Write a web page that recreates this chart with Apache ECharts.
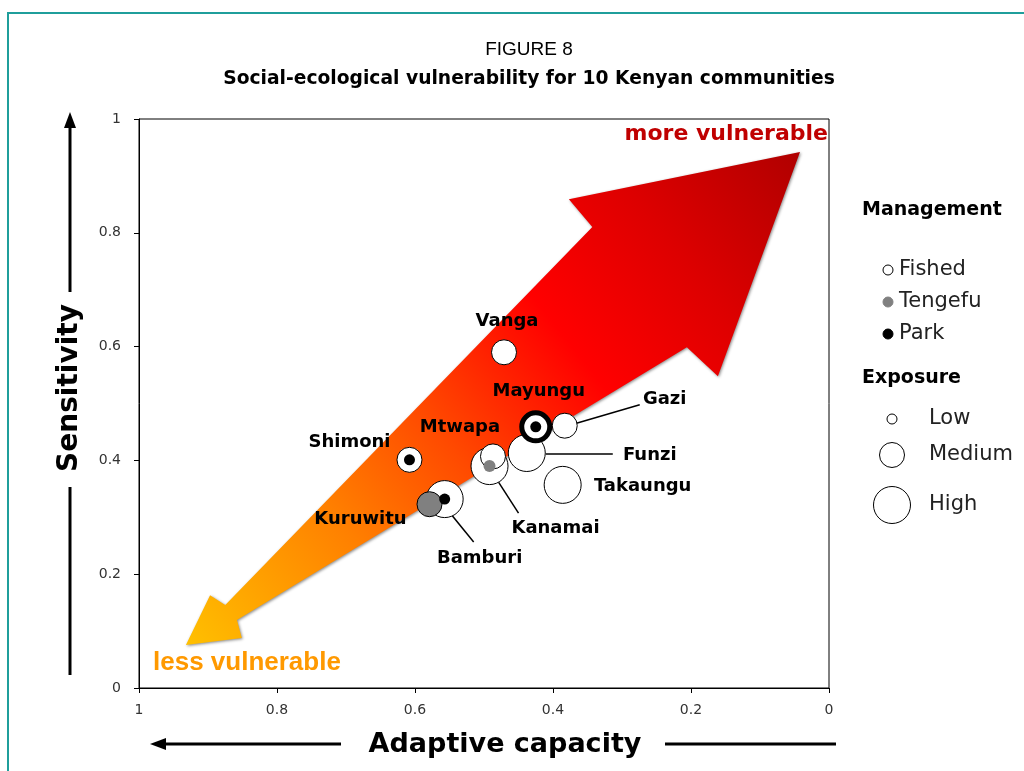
<!DOCTYPE html>
<html>
<head>
<meta charset="utf-8">
<title>Figure 8</title>
<script src="https://cdn.jsdelivr.net/npm/echarts@6/dist/echarts.min.js"></script>
<style>
html, body { margin: 0; padding: 0; background: #fff; }
#myChart { width: 1024px; height: 771px; }
</style>
</head>
<body>
<div id="myChart"></div>
<script>
// communities (drawn back to front)
var communities = ['Vanga', 'Funzi', 'Gazi', 'Mayungu', 'Takaungu', 'Kanamai', 'Mtwapa', 'Shimoni', 'Bamburi', 'Kuruwitu'];
var adaptiveCapacity = [0.471, 0.438, 0.383, 0.425, 0.386, 0.492, 0.487, 0.608, 0.557, 0.579];
var sensitivity = [0.590, 0.413, 0.461, 0.459, 0.357, 0.390, 0.407, 0.401, 0.332, 0.323];
var management = ['Fished', 'Fished', 'Fished', 'Park', 'Fished', 'Tengefu', 'Fished', 'Park', 'Park', 'Tengefu'];
var exposure = ['Medium', 'High', 'Medium', 'Medium', 'High', 'High', 'Medium', 'Medium', 'High', 'Medium'];
// axis ticks
var tickValues = [0, 0.2, 0.4, 0.6, 0.8, 1];
// legend entries
var managementLevels = ['Fished', 'Tengefu', 'Park'];
var exposureLevels = ['Low', 'Medium', 'High'];
// the big double arrow, in data space (adaptive capacity, sensitivity)
var arrowShape = [[0.042, 0.942], [0.161, 0.548], [0.206, 0.599], [0.858, 0.1195], [0.851, 0.088],
  [0.932, 0.0756], [0.897, 0.163], [0.875, 0.146], [0.343, 0.810], [0.377, 0.859]];

var managementColor = { Fished: '#ffffff', Tengefu: '#808080', Park: '#000000' };
var exposureSize = { Low: 10, Medium: 25, High: 37 };
var labelOffset = {
  Vanga: [3, -31], Mayungu: [3, -36], Gazi: [100, -26], Funzi: [123, 2], Takaungu: [80, 1],
  Mtwapa: [-33, -29], Kanamai: [66, 62], Shimoni: [-60, -18], Bamburi: [35, 59], Kuruwitu: [-69, 15]
};
// leader lines: start / end relative to the circle centre, px
var leaderLine = {
  Gazi: [[10, -2], [75, -21]],
  Funzi: [[19, 1], [86, 1]],
  Kanamai: [[9, 16], [29, 47]],
  Bamburi: [[7, 16], [29, 43]]
};

var myChart = echarts.init(document.getElementById('myChart'));

// exposure circles
var circleData = communities.map(function (name, i) {
  var item = {
    name: name,
    value: [adaptiveCapacity[i], sensitivity[i]],
    symbolSize: exposureSize[exposure[i]],
    label: { offset: labelOffset[name] }
  };
  if (name === 'Mayungu') {
    item.symbolSize = 28;
    item.itemStyle = { borderWidth: 5 };
  }
  if (name === 'Kuruwitu') {
    item.itemStyle = { color: managementColor.Tengefu };
  }
  return item;
});

// management dots inside the circles
var dotData = [];
communities.forEach(function (name, i) {
  if (management[i] === 'Fished' || name === 'Kuruwitu') return;
  dotData.push({
    name: name,
    value: [adaptiveCapacity[i], sensitivity[i]],
    symbolSize: management[i] === 'Park' ? 11 : 12,
    itemStyle: { color: managementColor[management[i]] }
  });
});

myChart.setOption({
  animation: false,
  title: [
    {
      text: 'FIGURE 8', left: 524, top: 35, textAlign: 'center',
      textStyle: { fontFamily: 'Liberation Sans', fontWeight: 'normal', fontSize: 19, color: '#000' }
    },
    {
      text: 'Social-ecological vulnerability for 10 Kenyan communities', left: 524, top: 65, textAlign: 'center',
      textStyle: { fontFamily: 'DejaVu Sans', fontWeight: 'bold', fontSize: 18.7, color: '#000' }
    }
  ],
  grid: {
    left: 139, right: 195, top: 119, bottom: 83,
    show: true, borderColor: '#000', borderWidth: 1
  },
  xAxis: {
    type: 'value', inverse: true,
    min: tickValues[0], max: tickValues[tickValues.length - 1], interval: tickValues[1] - tickValues[0],
    axisLine: { show: true, onZero: false, lineStyle: { color: '#000' } },
    axisTick: { show: true, length: 5, lineStyle: { color: '#000' } },
    axisLabel: { color: '#333', fontFamily: 'DejaVu Sans', fontSize: 14, margin: 15 },
    splitLine: { show: false }
  },
  yAxis: {
    type: 'value',
    min: tickValues[0], max: tickValues[tickValues.length - 1], interval: tickValues[1] - tickValues[0],
    axisLine: { show: true, onZero: false, lineStyle: { color: '#000' } },
    axisTick: { show: true, length: 5, lineStyle: { color: '#000' } },
    axisLabel: { color: '#333', fontFamily: 'DejaVu Sans', fontSize: 14, margin: 18 },
    splitLine: { show: false }
  },
  series: [
    {
      name: 'Exposure',
      type: 'scatter',
      z: 3,
      symbol: 'circle',
      itemStyle: { color: '#fff', borderColor: '#000', borderWidth: 1, opacity: 1 },
      label: {
        show: true, position: 'inside', formatter: '{b}',
        color: '#000', fontFamily: 'DejaVu Sans', fontWeight: 'bold', fontSize: 18,
        textBorderWidth: 0
      },
      emphasis: { disabled: true },
      data: circleData
    },
    {
      name: 'Management',
      type: 'scatter',
      z: 4,
      symbol: 'circle',
      itemStyle: { opacity: 1 },
      emphasis: { disabled: true },
      data: dotData
    }
  ]
});

// decorations: the arrow, leader lines, captions, axis names and the legend
var arrowPts = arrowShape.map(function (p) {
  return myChart.convertToPixel({ gridIndex: 0 }, p);
});

var leaders = [];
communities.forEach(function (name, i) {
  var seg = leaderLine[name];
  if (!seg) return;
  var c = myChart.convertToPixel({ gridIndex: 0 }, [adaptiveCapacity[i], sensitivity[i]]);
  leaders.push({
    type: 'line',
    shape: { x1: c[0] + seg[0][0], y1: c[1] + seg[0][1], x2: c[0] + seg[1][0], y2: c[1] + seg[1][1] },
    style: { stroke: '#000', lineWidth: 1.5 }
  });
});

var legend = [
  { type: 'text', x: 862, y: 210, style: { text: 'Management', font: 'bold 19px "DejaVu Sans"', fill: '#000', verticalAlign: 'middle' } },
  { type: 'text', x: 862, y: 378, style: { text: 'Exposure', font: 'bold 19px "DejaVu Sans"', fill: '#000', verticalAlign: 'middle' } }
];
managementLevels.forEach(function (m, i) {
  var cy = 270 + i * 32;
  legend.push({ type: 'circle', shape: { cx: 888, cy: cy, r: 5 }, style: { fill: managementColor[m], stroke: m === 'Fished' ? '#000' : managementColor[m], lineWidth: 1 } });
  legend.push({ type: 'text', x: 899, y: cy, style: { text: m, font: '21px "DejaVu Sans"', fill: '#222', verticalAlign: 'middle' } });
});
var exposureY = [419, 455, 505];
exposureLevels.forEach(function (e, i) {
  legend.push({ type: 'circle', shape: { cx: 892, cy: exposureY[i], r: exposureSize[e] / 2 }, style: { fill: '#fff', stroke: '#000', lineWidth: 1 } });
  legend.push({ type: 'text', x: 929, y: exposureY[i], style: { text: e, font: '21px "DejaVu Sans"', fill: '#222', verticalAlign: 'middle' } });
});

myChart.setOption({
  graphic: [
    // frame
    { type: 'rect', shape: { x: 8, y: 13, width: 1040, height: 800 }, style: { fill: 'none', stroke: '#1f9e9b', lineWidth: 2 }, z: -10 },
    // big gradient arrow
    {
      type: 'polygon',
      shape: { points: arrowPts },
      style: {
        fill: {
          type: 'linear', x: 0, y: 1, x2: 1, y2: 0,
          colorStops: [
            { offset: 0, color: '#ffc000' },
            { offset: 0.25, color: '#ff8000' },
            { offset: 0.42, color: '#ff4a00' },
            { offset: 0.62, color: '#ff0000' },
            { offset: 0.8, color: '#dd0000' },
            { offset: 1, color: '#b00000' }
          ]
        },
        shadowBlur: 3, shadowColor: 'rgba(0,0,0,0.45)', shadowOffsetX: 1, shadowOffsetY: 1
      }
    },
    { type: 'text', x: 828, y: 134, style: { text: 'more vulnerable', font: 'bold 22px "DejaVu Sans"', fill: '#c00000', align: 'right', verticalAlign: 'middle' } },
    { type: 'text', x: 153, y: 663, style: { text: 'less vulnerable', font: 'bold 26px "Liberation Sans"', fill: '#ff9900', align: 'left', verticalAlign: 'middle' } },
    // y axis name with arrow
    { type: 'text', x: 70, y: 388, rotation: Math.PI / 2, style: { text: 'Sensitivity', font: 'bold 28px "DejaVu Sans"', fill: '#000', align: 'center', verticalAlign: 'middle' } },
    { type: 'line', shape: { x1: 70, y1: 292, x2: 70, y2: 124 }, style: { stroke: '#000', lineWidth: 3 } },
    { type: 'polygon', shape: { points: [[70, 112], [64, 128], [76, 128]] }, style: { fill: '#000' } },
    { type: 'line', shape: { x1: 70, y1: 487, x2: 70, y2: 675 }, style: { stroke: '#000', lineWidth: 3 } },
    // x axis name with arrow
    { type: 'text', x: 505, y: 745, style: { text: 'Adaptive capacity', font: 'bold 27px "DejaVu Sans"', fill: '#000', align: 'center', verticalAlign: 'middle' } },
    { type: 'line', shape: { x1: 162, y1: 744, x2: 341, y2: 744 }, style: { stroke: '#000', lineWidth: 3 } },
    { type: 'polygon', shape: { points: [[150, 744], [166, 738], [166, 750]] }, style: { fill: '#000' } },
    { type: 'line', shape: { x1: 665, y1: 744, x2: 836, y2: 744 }, style: { stroke: '#000', lineWidth: 3 } }
  ].concat(leaders, legend)
});
</script>
</body>
</html>
